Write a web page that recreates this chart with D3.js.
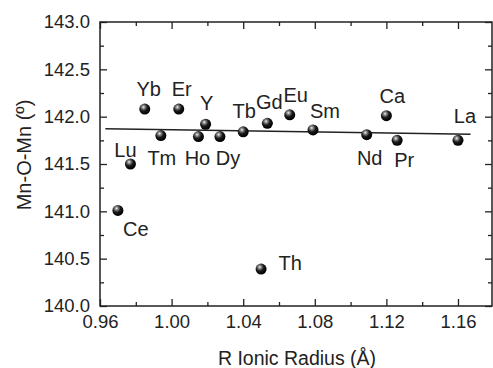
<!DOCTYPE html>
<html>
<head>
<meta charset="utf-8">
<script src="https://cdn.jsdelivr.net/npm/d3@7"></script>
<style>
  body { margin: 0; background: #fff; }
  svg { display: block; font-family: "Liberation Sans", Arial, sans-serif; }
</style>
</head>
<body>
<div id="chart"></div>
<script>
// Data
var elements = ["Lu", "Yb", "Tm", "Er", "Ho", "Y", "Dy", "Tb", "Gd", "Eu",
    "Sm", "Nd", "Ca", "Pr", "La", "Ce", "Th"];
var ionicRadius = [0.977, 0.985, 0.994, 1.004, 1.015, 1.019, 1.027, 1.040, 1.0535, 1.066,
    1.079, 1.109, 1.120, 1.126, 1.160, 0.970, 1.050];
var mnoAngle = [141.50, 142.08, 141.80, 142.08, 141.79, 141.92, 141.79, 141.84, 141.93, 142.02,
    141.86, 141.81, 142.01, 141.75, 141.75, 141.01, 140.39];
var fitX = [0.963, 1.167];
var fitY = [141.873, 141.814];
var xTicks = [0.96, 1.00, 1.04, 1.08, 1.12, 1.16];
var yTicks = [140.0, 140.5, 141.0, 141.5, 142.0, 142.5, 143.0];

// label placement relative to each point (layout only)
var labelOffset = {
    Lu: [-5, -7], Yb: [4, -13], Tm: [1, 29], Er: [3, -13], Ho: [-1, 28],
    Y: [1, -14], Dy: [8, 28], Tb: [1, -14], Gd: [2, -14], Eu: [6, -13],
    Sm: [12, -12], Nd: [3, 30], Ca: [6, -13], Pr: [7, 27], La: [7, -17],
    Ce: [18, 26], Th: [29, 1]
};

var W = 493, H = 368;
var margin = { top: 22, right: 1, bottom: 62, left: 100 },
    width = W - margin.left - margin.right,
    height = H - margin.top - margin.bottom;

var ink = "#222";

var xScale = d3.scaleLinear().domain([0.96, 1.179]).range([0, width]);
var yScale = d3.scaleLinear().domain([140, 143]).range([height, 0]);

var svg = d3.select("#chart").append("svg")
    .attr("width", W).attr("height", H);

var grad = svg.append("defs").append("radialGradient")
    .attr("id", "ball").attr("cx", "38%").attr("cy", "32%").attr("r", "65%");
grad.append("stop").attr("offset", "0%").attr("stop-color", "#f4f4f4");
grad.append("stop").attr("offset", "22%").attr("stop-color", "#888");
grad.append("stop").attr("offset", "55%").attr("stop-color", "#1a1a1a");
grad.append("stop").attr("offset", "100%").attr("stop-color", "#000");

var canvas = svg.append("g")
    .attr("transform", "translate(" + margin.left + "," + margin.top + ")");

var xMinor = d3.range(0.98, 1.18, 0.04);
var yMinor = d3.range(140.25, 143, 0.5);

function styleAxis(g) {
    g.select(".domain").remove();
    g.selectAll("line").attr("stroke", ink).attr("stroke-width", 1.3);
    g.selectAll("text").attr("fill", ink).style("font-size", "18.5px");
}

// bottom axis with labels
canvas.append("g")
    .attr("transform", "translate(0," + height + ")")
    .call(d3.axisBottom(xScale).tickValues(xTicks).tickFormat(d3.format(".2f"))
        .tickSize(-7).tickPadding(9))
    .call(styleAxis);
canvas.append("g")
    .attr("transform", "translate(0," + height + ")")
    .call(d3.axisBottom(xScale).tickValues(xMinor).tickFormat("").tickSize(-4))
    .call(styleAxis);

// top axis, ticks only
canvas.append("g")
    .call(d3.axisTop(xScale).tickValues(xTicks).tickFormat("").tickSize(-7))
    .call(styleAxis);
canvas.append("g")
    .call(d3.axisTop(xScale).tickValues(xMinor).tickFormat("").tickSize(-4))
    .call(styleAxis);

// left axis with labels
canvas.append("g")
    .call(d3.axisLeft(yScale).tickValues(yTicks).tickFormat(d3.format(".1f"))
        .tickSize(-7).tickPadding(10))
    .call(styleAxis);
canvas.append("g")
    .call(d3.axisLeft(yScale).tickValues(yMinor).tickFormat("").tickSize(-4))
    .call(styleAxis);

// right axis, ticks only
canvas.append("g")
    .attr("transform", "translate(" + width + ",0)")
    .call(d3.axisRight(yScale).tickValues(yTicks).tickFormat("").tickSize(-7))
    .call(styleAxis);
canvas.append("g")
    .attr("transform", "translate(" + width + ",0)")
    .call(d3.axisRight(yScale).tickValues(yMinor).tickFormat("").tickSize(-4))
    .call(styleAxis);

// frame
canvas.append("rect")
    .attr("width", width).attr("height", height)
    .attr("fill", "none").attr("stroke", ink).attr("stroke-width", 1.5);

// linear fit
canvas.append("line")
    .attr("x1", xScale(fitX[0])).attr("y1", yScale(fitY[0]))
    .attr("x2", xScale(fitX[1])).attr("y2", yScale(fitY[1]))
    .attr("stroke", ink).attr("stroke-width", 1.5);

var points = elements.map(function (d, i) {
    return { name: d, x: ionicRadius[i], y: mnoAngle[i] };
});

canvas.selectAll(".pt")
    .data(points)
    .enter().append("circle")
    .attr("class", "pt")
    .attr("cx", function (d) { return xScale(d.x); })
    .attr("cy", function (d) { return yScale(d.y); })
    .attr("r", 5.5)
    .attr("fill", "url(#ball)");

canvas.selectAll(".lbl")
    .data(points)
    .enter().append("text")
    .attr("class", "lbl")
    .attr("x", function (d) { return xScale(d.x) + labelOffset[d.name][0]; })
    .attr("y", function (d) { return yScale(d.y) + labelOffset[d.name][1]; })
    .attr("text-anchor", "middle")
    .attr("fill", ink)
    .style("font-size", "20px")
    .text(function (d) { return d.name; });

// axis titles
svg.append("text")
    .attr("x", 297).attr("y", 365)
    .attr("text-anchor", "middle")
    .attr("fill", ink)
    .style("font-size", "19.5px")
    .text("R Ionic Radius (Å)");

svg.append("text")
    .attr("transform", "translate(31,155) rotate(-90)")
    .attr("text-anchor", "middle")
    .attr("fill", ink)
    .style("font-size", "20px")
    .text("Mn-O-Mn (º)");
</script>
</body>
</html>
